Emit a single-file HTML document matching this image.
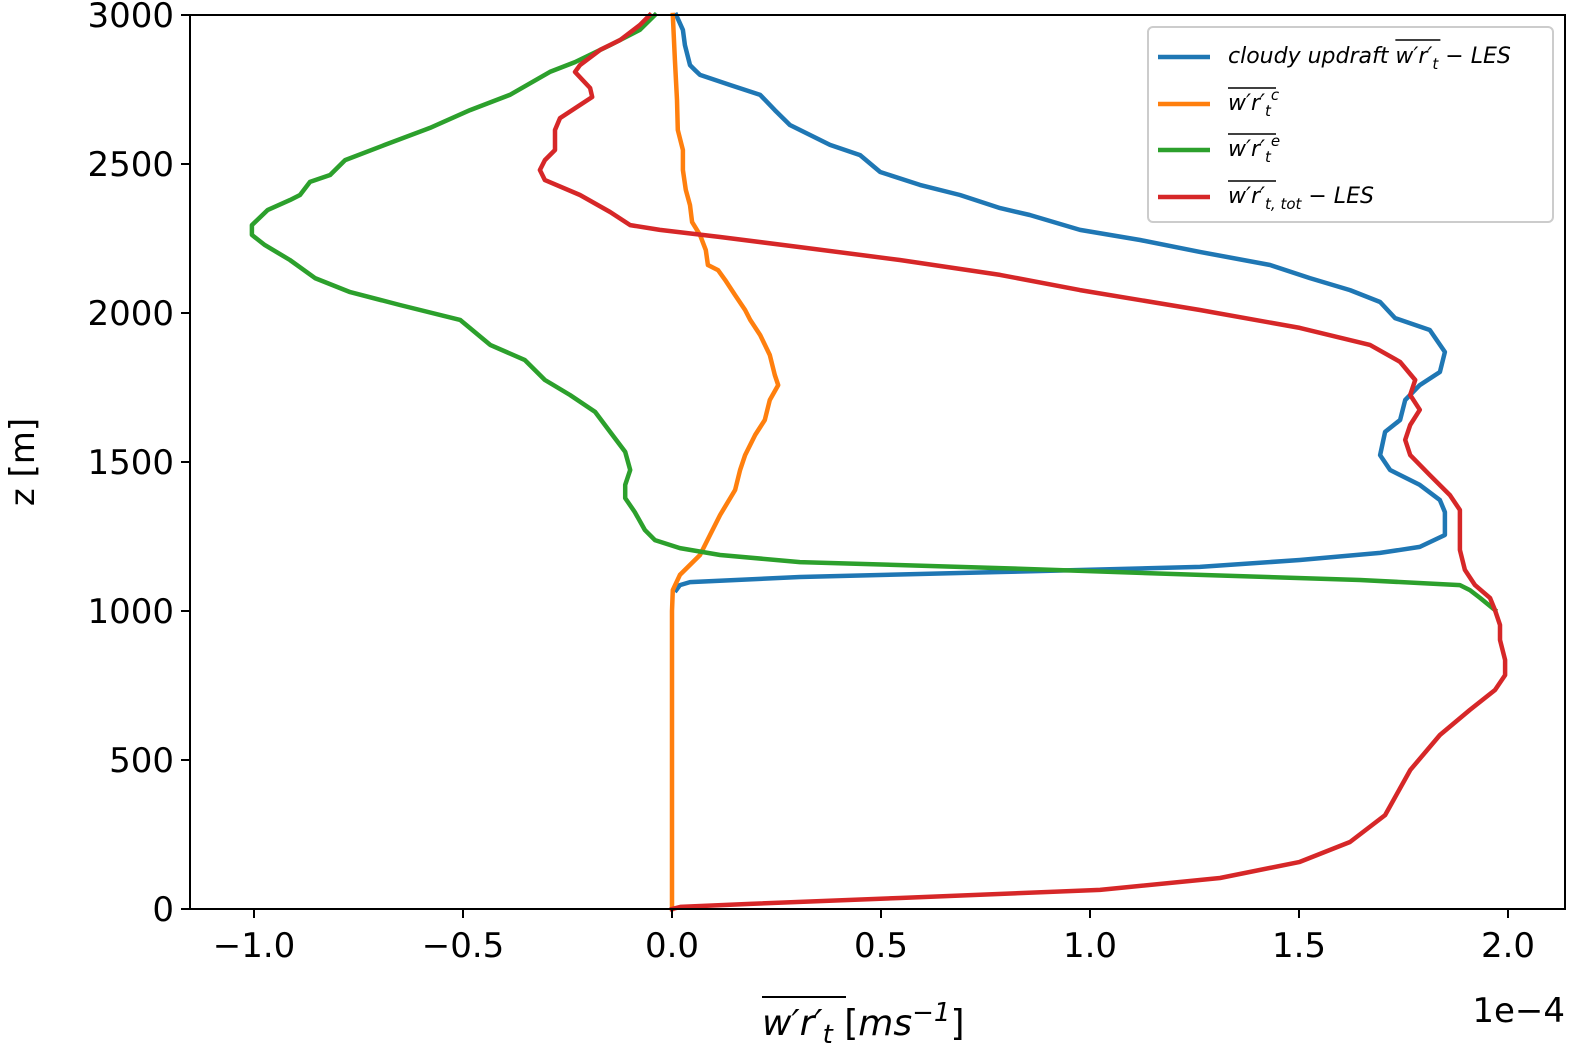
<!DOCTYPE html>
<html><head><meta charset="utf-8">
<style>
body{margin:0;background:#fff;}
svg{display:block;font-family:"DejaVu Sans","Liberation Sans",sans-serif;}
.it{font-style:italic;}
</style></head>
<body>
<svg id="chart" width="1589" height="1058" viewBox="0 0 1589 1058">
<g id="plot"></g>
<g id="axes"></g>
<g id="legend">
  <rect x="1148" y="27" width="405" height="195" rx="5" fill="#fff" fill-opacity="0.8" stroke="#ccc" stroke-width="2"/>
  <g>
    <line x1="1158" y1="57" x2="1210" y2="57" stroke="#1f77b4" stroke-width="4.5"/>
    <text id="blueLeg" x="1228" y="63" font-size="22" class="it">cloudy updraft w′r′<tspan font-size="15" dy="6">t</tspan><tspan dy="-6"> − LES</tspan></text>
    <line id="blueOver" x1="1416" y1="40" x2="1462" y2="40" stroke="#000" stroke-width="1.5"/>
  </g>
  <g>
    <line x1="1158" y1="104" x2="1210" y2="104" stroke="#ff7f0e" stroke-width="4.5"/>
    <text x="1228" y="110" font-size="22" class="it">w′r′<tspan font-size="15" dy="6">t</tspan><tspan font-size="15" dy="-16">c</tspan></text>
    <line x1="1228" y1="88" x2="1276" y2="88" stroke="#000" stroke-width="1.5"/>
  </g>
  <g>
    <line x1="1158" y1="150" x2="1210" y2="150" stroke="#2ca02c" stroke-width="4.5"/>
    <text x="1228" y="156" font-size="22" class="it">w′r′<tspan font-size="15" dy="6">t</tspan><tspan font-size="15" dy="-16">e</tspan></text>
    <line x1="1228" y1="134" x2="1276" y2="134" stroke="#000" stroke-width="1.5"/>
  </g>
  <g>
    <line x1="1158" y1="197" x2="1210" y2="197" stroke="#d62728" stroke-width="4.5"/>
    <text x="1228" y="203" font-size="22" class="it">w′r′<tspan font-size="15" dy="6">t, tot</tspan><tspan dy="-6"> − LES</tspan></text>
    <line x1="1228" y1="181" x2="1276" y2="181" stroke="#000" stroke-width="1.5"/>
  </g>
</g>
<g>
  <text x="762" y="1035" font-size="36" class="it">w′r′<tspan font-size="26" dy="8">t</tspan><tspan dy="-8" font-style="normal"> [</tspan>ms<tspan font-size="26" dy="-14">−1</tspan><tspan dy="14" font-style="normal">]</tspan></text>
  <line x1="762" y1="997" x2="846" y2="997" stroke="#000" stroke-width="2"/>
</g>
<text x="1565" y="1022" font-size="34" text-anchor="end">1e−4</text>
<text transform="translate(34,462) rotate(-90)" font-size="34" text-anchor="middle">z [m]</text>
</svg>
<script>
const xTicks=[-1.0,-0.5,0.0,0.5,1.0,1.5,2.0];
const xTickLabels=["−1.0","−0.5","0.0","0.5","1.0","1.5","2.0"];
const yTicks=[0,500,1000,1500,2000,2500,3000];
const yTickLabels=["0","500","1000","1500","2000","2500","3000"];

const blueZ=[3000,2950,2899,2832,2815,2799,2765,2732,2681,2631,2564,2530,2473,2430,2396,2352,2329,2279,2245,2205,2161,2117,2077,2037,1983,1943,1869,1802,1758,1708,1641,1601,1523,1473,1423,1372,1332,1255,1215,1195,1171,1148,1131,1114,1097,1087,1070];
const blueX=[0.01,0.026,0.031,0.043,0.055,0.067,0.139,0.211,0.246,0.282,0.378,0.45,0.498,0.593,0.689,0.785,0.856,0.976,1.12,1.263,1.431,1.526,1.622,1.694,1.73,1.813,1.849,1.837,1.789,1.754,1.742,1.706,1.694,1.718,1.789,1.837,1.849,1.849,1.789,1.694,1.502,1.263,0.785,0.306,0.043,0.019,0.01];

const orangeZ=[0,1000,1070,1121,1188,1255,1322,1406,1473,1523,1591,1641,1708,1758,1792,1859,1926,1977,2010,2060,2111,2144,2161,2211,2262,2305,2362,2413,2480,2547,2614,2715,2849,3000];
const orangeX=[0,0,0.002,0.019,0.067,0.091,0.115,0.151,0.163,0.175,0.199,0.222,0.234,0.254,0.246,0.234,0.211,0.187,0.175,0.151,0.127,0.11,0.086,0.081,0.067,0.048,0.043,0.033,0.026,0.026,0.014,0.012,0.007,0.002];

const greenZ=[3000,2950,2899,2842,2809,2732,2681,2621,2564,2513,2463,2440,2396,2379,2346,2295,2262,2228,2178,2117,2070,2027,1977,1893,1842,1775,1725,1668,1601,1534,1473,1423,1379,1332,1272,1238,1211,1188,1164,1144,1121,1104,1087,1070,1044,1003];
const greenX=[-0.041,-0.077,-0.148,-0.232,-0.292,-0.388,-0.483,-0.579,-0.687,-0.782,-0.818,-0.866,-0.89,-0.914,-0.967,-1.005,-1.005,-0.974,-0.914,-0.854,-0.77,-0.651,-0.507,-0.435,-0.352,-0.304,-0.244,-0.184,-0.148,-0.112,-0.1,-0.112,-0.112,-0.089,-0.065,-0.041,0.019,0.115,0.306,0.785,1.263,1.646,1.885,1.909,1.933,1.969];

const redZ=[3000,2966,2916,2883,2832,2809,2755,2725,2698,2654,2614,2547,2513,2480,2446,2396,2339,2295,2279,2255,2221,2178,2128,2077,2010,1950,1893,1836,1775,1725,1675,1624,1574,1523,1456,1389,1339,1205,1138,1087,1044,1003,953,903,836,785,735,668,584,466,315,225,158,104,64,37,17,7,0];
const redX=[-0.053,-0.077,-0.124,-0.172,-0.22,-0.232,-0.196,-0.191,-0.22,-0.268,-0.28,-0.28,-0.304,-0.316,-0.304,-0.22,-0.148,-0.1,-0.029,0.115,0.306,0.545,0.785,0.976,1.263,1.502,1.67,1.742,1.778,1.766,1.789,1.766,1.754,1.766,1.813,1.861,1.885,1.885,1.897,1.921,1.957,1.969,1.981,1.981,1.993,1.993,1.969,1.909,1.837,1.766,1.706,1.622,1.502,1.311,1.024,0.545,0.187,0.02,0];

const NS='http://www.w3.org/2000/svg';
const L=190,R=1565,T=15,B=909,xMin=-1.1531,xMax=2.1364,yMin=0,yMax=3000;
function xs(v){return L+(v-xMin)/(xMax-xMin)*(R-L);}
function ys(v){return B-(v-yMin)/(yMax-yMin)*(B-T);}
const plot=document.getElementById('plot'),axes=document.getElementById('axes');
function mk(tag,attrs,parent){const e=document.createElementNS(NS,tag);for(const k in attrs)e.setAttribute(k,attrs[k]);parent.appendChild(e);return e;}
function series(X,Z,color,name){
  const d=X.map((x,i)=>(i?'L':'M')+xs(x).toFixed(1)+','+ys(Z[i]).toFixed(1)).join('');
  const p=mk('path',{d:d,fill:'none',stroke:color,'stroke-width':4.5,'stroke-linejoin':'round','stroke-linecap':'square'},plot);
  
  
}
series(blueX,blueZ,'#1f77b4','line-cloudy-updraft');
series(orangeX,orangeZ,'#ff7f0e','line-wr-c');
series(greenX,greenZ,'#2ca02c','line-wr-e');
series(redX,redZ,'#d62728','line-wr-tot');

const frame=mk('rect',{x:L,y:T,width:R-L,height:B-T,fill:'none',stroke:'#000','stroke-width':2},axes);


xTicks.forEach((v,i)=>{
  const x=xs(v);
  const t=mk('line',{x1:x,y1:B,x2:x,y2:B+9,stroke:'#000','stroke-width':2},axes);
  
  
  const tx=mk('text',{x:x,y:B+48,'font-size':34,'text-anchor':'middle'},axes);
  tx.textContent=xTickLabels[i];
  
  
});
yTicks.forEach((v,i)=>{
  const y=ys(v);
  const t=mk('line',{x1:L-9,y1:y,x2:L,y2:y,stroke:'#000','stroke-width':2},axes);
  
  
  const tx=mk('text',{x:L-16,y:y+12,'font-size':34,'text-anchor':'end'},axes);
  tx.textContent=yTickLabels[i];
  
  
});
try{
  const bl=document.getElementById('blueLeg');
  const a=bl.getSubStringLength(0,15);
  const b=bl.getSubStringLength(15,4);
  const ov=document.getElementById('blueOver');
  ov.setAttribute('x1',1228+a);
  ov.setAttribute('x2',1228+a+b+8);
}catch(e){}
</script>
</body></html>
